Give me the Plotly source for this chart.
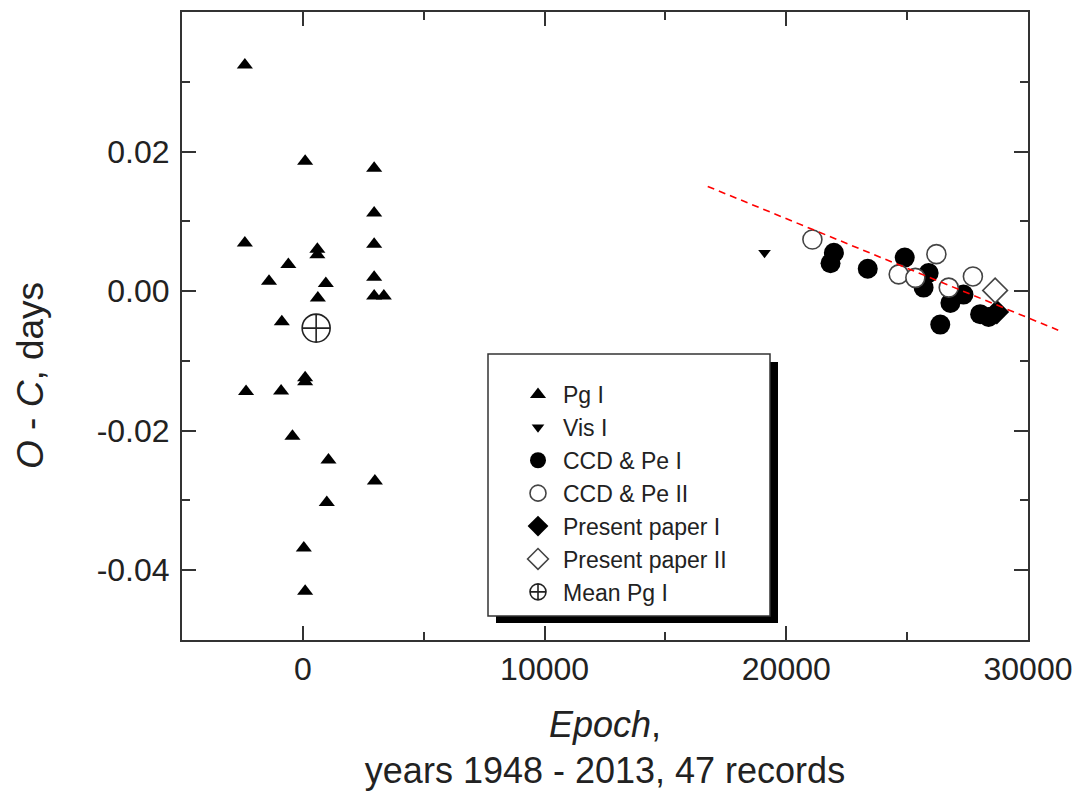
import plotly.graph_objects as go

# ---------------- data ----------------
pg_x = [-2400, 95, 2950, 2950, 2950, -2400, 600, 600, -600, -1400, 2950, 950, 2950, 3350, 620, -870,
        95, 95, -2350, -900, -430, 1060, 2980, 990, 40, 95]
pg_y = [0.0324, 0.0186, 0.0176, 0.0112, 0.0067, 0.0069, 0.0060, 0.0052, 0.0038, 0.0014, 0.0020, 0.0011,
        -0.0007, -0.0007, -0.0010, -0.0044, -0.0124, -0.0130, -0.0144, -0.0143, -0.0208, -0.0242,
        -0.0272, -0.0303, -0.0368, -0.0430]

vis_x = [19100]
vis_y = [0.0055]

ccd1_x = [21830, 21970, 23370, 24900, 25890, 25680, 26790, 27330, 26370, 28020, 28370]
ccd1_y = [0.0040, 0.0055, 0.0032, 0.0048, 0.0026, 0.0005, -0.0017, -0.0005, -0.0048, -0.0033, -0.0037]

ccd2_x = [21080, 24650, 25340, 26210, 26720, 27720]
ccd2_y = [0.0074, 0.0024, 0.0019, 0.0053, 0.0005, 0.0021]

pres1_x = [28710]
pres1_y = [-0.0030]

pres2_x = [28640]
pres2_y = [0.0001]

mean_x = [550]
mean_y = [-0.0053]

fit_x = [16750, 31250]
fit_y = [0.0150, -0.0056]

x_tickvals = [0, 10000, 20000, 30000]
x_ticktext = ["0", "10000", "20000", "30000"]
x_minor = [5000, 15000, 25000]
y_tickvals = [-0.04, -0.02, 0.00, 0.02]
y_ticktext = ["-0.04", "-0.02", "0.00", "0.02"]
y_minor = [-0.03, -0.01, 0.01, 0.03]

# ---------------- layout geometry ----------------
W, H = 1075, 792
ML, MR, MT, MB = 182, 10, 12, 152
plot_w = W - ML - MR
plot_h = H - MT - MB
d_end = (1028 - ML) / plot_w
x_range = [-5000, 30000]
y_range = [-0.05, 0.04]
x2_range = [x_range[0], x_range[0] + (x_range[1] - x_range[0]) / d_end]

FONT = "Liberation Sans, Arial, sans-serif"
AX = "#333333"
TXT = "#222222"

fig = go.Figure()

fig.add_trace(go.Scatter(x=pg_x, y=pg_y, mode="markers", name="Pg I",
                         marker=dict(symbol="triangle-up", size=14, color="black")))
fig.add_trace(go.Scatter(x=vis_x, y=vis_y, mode="markers", name="Vis I",
                         marker=dict(symbol="triangle-down", size=11, color="black")))
fig.add_trace(go.Scatter(x=ccd1_x, y=ccd1_y, mode="markers", name="CCD & Pe I",
                         marker=dict(symbol="circle", size=20, color="black", line=dict(width=0))))
fig.add_trace(go.Scatter(x=ccd2_x, y=ccd2_y, mode="markers", name="CCD & Pe II",
                         marker=dict(symbol="circle", size=19, color="white",
                                     line=dict(color="#444444", width=1.6))))
fig.add_trace(go.Scatter(x=pres1_x, y=pres1_y, mode="markers", name="Present paper I",
                         marker=dict(symbol="diamond", size=19, color="black", line=dict(width=0))))
fig.add_trace(go.Scatter(x=pres2_x, y=pres2_y, mode="markers", name="Present paper II",
                         marker=dict(symbol="diamond", size=19, color="white",
                                     line=dict(color="#444444", width=1.6))))
fig.add_trace(go.Scatter(x=mean_x, y=mean_y, mode="markers", name="Mean Pg I",
                         marker=dict(symbol="circle-cross-open", size=28, color="#222222",
                                     line=dict(width=1.6))))
fig.add_trace(go.Scatter(x=fit_x, y=fit_y, mode="lines", showlegend=False,
                         line=dict(color="red", width=1.6, dash="7px,5px"),
                         xaxis="x2", yaxis="y2"))

axis_common = dict(showline=True, linecolor=AX, linewidth=2, mirror="allticks",
                   ticks="inside", ticklen=14, tickwidth=2, tickcolor=AX,
                   showgrid=False, zeroline=False, automargin=False,
                   tickfont=dict(family=FONT, size=32, color=TXT))

fig.update_layout(
    width=W, height=H, autosize=False,
    margin=dict(l=ML, r=MR, t=MT, b=MB, autoexpand=False),
    paper_bgcolor="white", plot_bgcolor="rgba(0,0,0,0)",
    font=dict(family=FONT, color=TXT),
    xaxis=dict(domain=[0, d_end], range=x_range, tickmode="array",
               tickvals=x_tickvals, ticktext=x_ticktext,
               minor=dict(tickvals=x_minor, ticks="inside", ticklen=8, tickwidth=2, tickcolor=AX),
               ticklabelstandoff=0,
               title=dict(text="<i>Epoch</i>,<br>years 1948 - 2013, 47 records",
                          font=dict(family=FONT, size=36, color=TXT), standoff=25),
               **axis_common),
    yaxis=dict(domain=[0, 1], range=y_range, tickmode="array",
               tickvals=y_tickvals, ticktext=y_ticktext,
               minor=dict(tickvals=y_minor, ticks="inside", ticklen=8, tickwidth=2, tickcolor=AX),
               ticklabelstandoff=4,
               **axis_common),
    xaxis2=dict(domain=[0, 1], range=x2_range, visible=False, anchor="y2"),
    yaxis2=dict(domain=[0, 1], range=y_range, visible=False, anchor="x2"),
    showlegend=True,
    legend=dict(x=(513 - ML) / plot_w, y=(640 - 373) / plot_h, xanchor="left", yanchor="top",
                bgcolor="rgba(0,0,0,0)", borderwidth=0, itemwidth=40,
                font=dict(family=FONT, size=23, color=TXT)),
    annotations=[dict(text="<i>O</i> - <i>C</i>, days", xref="paper", yref="paper",
                      x=(30 - ML) / plot_w, y=(640 - 376) / plot_h, textangle=-90,
                      showarrow=False, xanchor="center", yanchor="middle",
                      font=dict(family=FONT, size=37, color=TXT))],
    shapes=[
        dict(type="rect", xref="paper", yref="paper", layer="above",
             x0=(496 - ML) / plot_w, x1=(778 - ML) / plot_w,
             y0=(640 - 623) / plot_h, y1=(640 - 362) / plot_h,
             fillcolor="black", line=dict(width=0)),
        dict(type="rect", xref="paper", yref="paper", layer="above",
             x0=(488 - ML) / plot_w, x1=(770 - ML) / plot_w,
             y0=(640 - 616) / plot_h, y1=(640 - 354) / plot_h,
             fillcolor="white", line=dict(color=AX, width=1.5)),
    ],
)

fig.write_html("out.html")
